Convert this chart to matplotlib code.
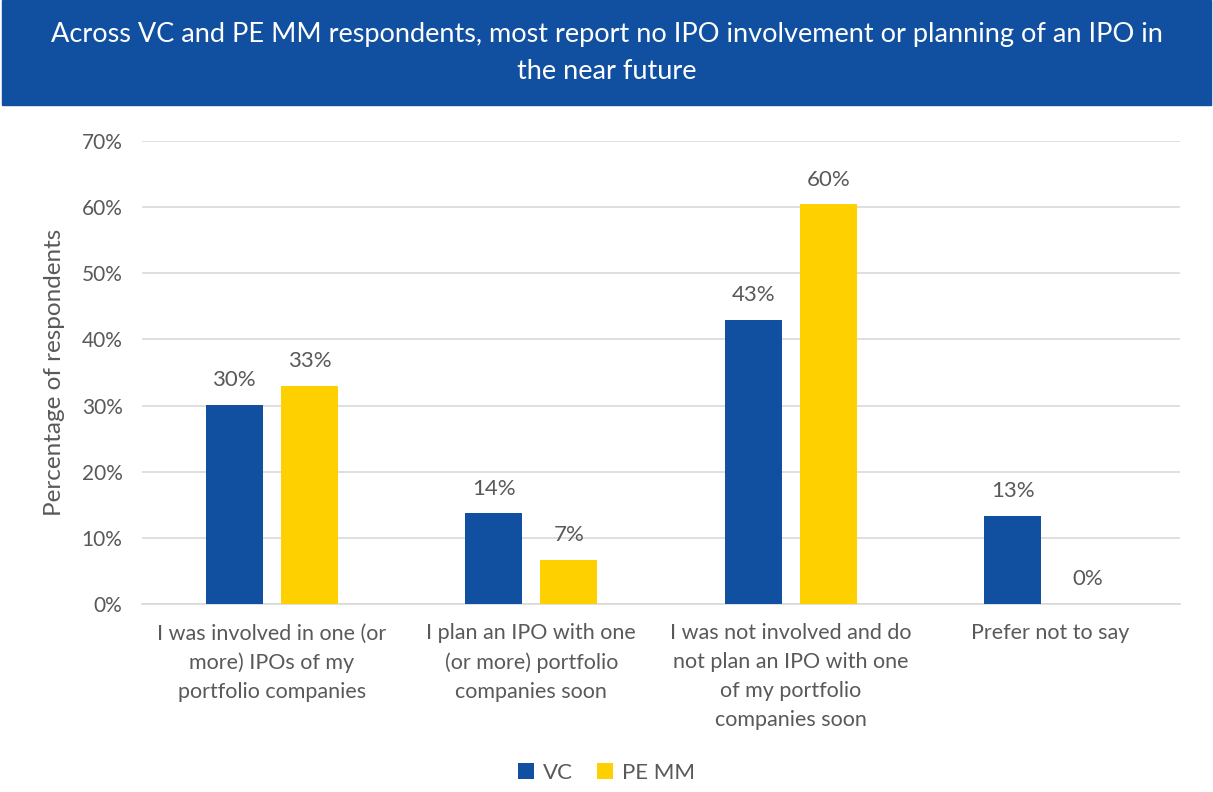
import matplotlib
matplotlib.use("Agg")
import matplotlib.pyplot as plt
import numpy as np
from matplotlib.patches import Rectangle

categories = [
    "I was involved in one (or\nmore) IPOs of my\nportfolio companies",
    "I plan an IPO with one\n(or more) portfolio\ncompanies soon",
    "I was not involved and do\nnot plan an IPO with one\nof my portfolio\ncompanies soon",
    "Prefer not to say",
]
vc = [30.1, 13.7, 43.0, 13.3]
pe_mm = [33.0, 6.7, 60.4, 0.0]
vc_labels = ["30%", "14%", "43%", "13%"]
pe_labels = ["33%", "7%", "60%", "0%"]

BLUE = "#1150A0"
YELLOW = "#FFD000"
GREY = "#595959"

plt.rcParams["font.family"] = ["Lato", "DejaVu Sans"]

fig = plt.figure(figsize=(12.13, 7.92), dpi=100)

# title banner
fig.patches.append(Rectangle((0.002, 1 - 105 / 792), 0.996, 105 / 792,
                             transform=fig.transFigure, color=BLUE, zorder=0))
fig.text(0.5, 1 - 53 / 792,
         "Across VC and PE MM respondents, most report no IPO involvement or planning of an IPO in\nthe near future",
         ha="center", va="center", color="white", fontsize=19.5, linespacing=1.6)

ax = fig.add_axes([142 / 1213, 1 - 604 / 792, (1180 - 142) / 1213, (604 - 141) / 792])
x = np.arange(len(categories))
w = 0.22
off = 0.145
b1 = ax.bar(x - off, vc, w, color=BLUE, label="VC", zorder=3)
b2 = ax.bar(x + off, pe_mm, w, color=YELLOW, label="PE MM", zorder=3)

for bars, labs in ((b1, vc_labels), (b2, pe_labels)):
    for b, t in zip(bars, labs):
        ax.text(b.get_x() + b.get_width() / 2, b.get_height() + 2.2, t,
                ha="center", va="bottom", color=GREY, fontsize=16)

ax.set_xlim(-0.5, 3.5)
ax.set_ylim(0, 70)
ax.set_yticks(range(0, 71, 10))
ax.set_yticklabels([f"{v}%" for v in range(0, 71, 10)], color=GREY, fontsize=15)
ax.set_xticks(x)
ax.set_xticklabels(categories, color=GREY, fontsize=15.5, linespacing=1.55, va="top")
ax.tick_params(axis="both", length=0)
ax.tick_params(axis="y", pad=14)
ax.tick_params(axis="x", pad=14)
ax.grid(axis="y", color="#D9D9D9", linewidth=1.2, zorder=0)
for s in ["top", "right", "left"]:
    ax.spines[s].set_visible(False)
ax.spines["bottom"].set_color("#D9D9D9")
ax.spines["bottom"].set_linewidth(1.2)

ax.set_ylabel("Percentage of respondents", color=GREY, fontsize=17.5, labelpad=12)

fig.legend(handles=[b1, b2], labels=["VC", "PE MM"], loc="center",
           bbox_to_anchor=(0.5, 1 - 773 / 792), ncol=2, frameon=False,
           fontsize=16, labelcolor=GREY, handlelength=0.7, handleheight=0.7,
           columnspacing=1.1, handletextpad=0.4)

fig.savefig("out.png", dpi=100)
